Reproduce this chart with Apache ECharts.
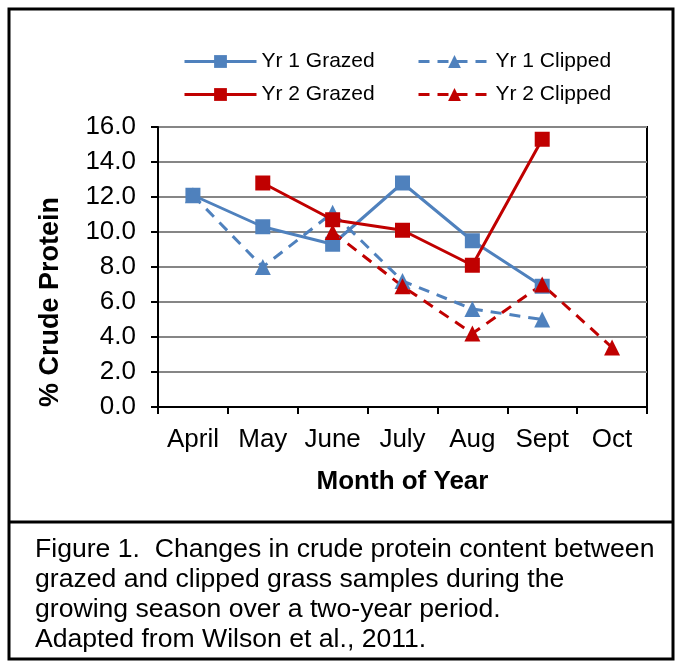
<!DOCTYPE html>
<html>
<head>
<meta charset="utf-8">
<script src="https://cdn.jsdelivr.net/npm/echarts@6/dist/echarts.min.js"></script>
<style>
html, body { margin: 0; padding: 0; background: #fff; }
#main { width: 680px; height: 662px; }
</style>
</head>
<body>
<div id="main"></div>
<script>
// 月份
const months = ['April', 'May', 'June', 'July', 'Aug', 'Sept', 'Oct'];
// 各系列数值（% crude protein）
const yr1Grazed = [12.1, 10.3, 9.3, 12.8, 9.5, 6.9, null];
const yr1Clipped = [12.1, 8.0, 11.1, 7.2, 5.6, 5.0, null];
const yr2Grazed = [null, 12.8, 10.7, 10.1, 8.1, 15.3, null];
const yr2Clipped = [null, null, 10.0, 6.9, 4.2, 7.0, 3.4];
const captionLines = [
    'Figure 1.  Changes in crude protein content between',
    'grazed and clipped grass samples during the',
    'growing season over a two-year period.',
    'Adapted from Wilson et al., 2011.'
];

const blue = '#4F81BD';
const red = '#C00000';
const font = '"Liberation Sans", Arial, sans-serif';

function mkSeries(name, data, color, dashed) {
    return {
        name: name,
        type: 'line',
        data: data,
        symbol: dashed ? 'triangle' : 'rect',
        symbolSize: dashed ? 16 : 15,
        connectNulls: false,
        itemStyle: { color: color },
        lineStyle: { color: color, width: 3, type: dashed ? [11, 8] : 'solid' },
        z: 3
    };
}

const legendBase = {
    top: 46, orient: 'vertical',
    itemWidth: 72, itemHeight: 16, itemGap: 12,
    lineStyle: { width: 3 },
    textStyle: { fontSize: 21, color: '#000', fontFamily: font }
};

const myEcharts = echarts.init(document.getElementById('main'));
const option = {
    animation: false,
    textStyle: { fontFamily: font },
    legend: [
        Object.assign({ left: 178, data: ['Yr 1 Grazed', 'Yr 2 Grazed'] }, legendBase),
        Object.assign({ left: 412, data: ['Yr 1 Clipped', 'Yr 2 Clipped'] }, legendBase)
    ],
    grid: {
        left: 158, right: 33, top: 127, bottom: 255,
        show: true, borderColor: '#000', borderWidth: 2
    },
    xAxis: {
        type: 'category',
        data: months,
        boundaryGap: true,
        axisLine: { lineStyle: { color: '#000', width: 2 } },
        axisTick: { show: true, interval: 0, length: 7, lineStyle: { color: '#000', width: 2 } },
        axisLabel: { interval: 0, hideOverlap: false, color: '#000', fontSize: 26, margin: 20, fontFamily: font },
        name: 'Month of Year',
        nameLocation: 'middle',
        nameGap: 62,
        nameTextStyle: { fontSize: 26, fontWeight: 'bold', color: '#000', fontFamily: font }
    },
    yAxis: {
        type: 'value',
        min: 0, max: 16, interval: 2,
        axisLine: { show: true, lineStyle: { color: '#000', width: 2 } },
        axisTick: { show: true, length: 7, lineStyle: { color: '#000', width: 2 } },
        axisLabel: {
            color: '#000', fontSize: 26, margin: 22, fontFamily: font,
            formatter: v => v.toFixed(1)
        },
        splitLine: { lineStyle: { color: '#868686', width: 2 } }
    },
    graphic: [
        {
            type: 'rect', silent: true,
            shape: { x: 9, y: 9, width: 664, height: 650 },
            style: { fill: 'none', stroke: '#000', lineWidth: 3 }
        },
        {
            type: 'line', silent: true,
            shape: { x1: 9, y1: 522, x2: 673, y2: 522 },
            style: { stroke: '#000', lineWidth: 3 }
        },
        {
            type: 'text', silent: true,
            x: 51, y: 302, rotation: Math.PI / 2,
            style: {
                text: '% Crude Protein', fontSize: 27, fontWeight: 'bold', fill: '#000',
                fontFamily: font, align: 'center', verticalAlign: 'middle'
            }
        }
    ].concat(captionLines.map((t, i) => ({
        type: 'text', silent: true,
        x: 35, y: 550 + i * 30,
        style: { text: t, fontSize: 26.6, fill: '#000', fontFamily: font, align: 'left', verticalAlign: 'middle' }
    }))),
    series: [
        mkSeries('Yr 1 Grazed', yr1Grazed, blue, false),
        mkSeries('Yr 1 Clipped', yr1Clipped, blue, true),
        mkSeries('Yr 2 Grazed', yr2Grazed, red, false),
        mkSeries('Yr 2 Clipped', yr2Clipped, red, true)
    ]
};
myEcharts.setOption(option);
window.addEventListener('resize', () => { myEcharts.resize(); });
</script>
</body>
</html>
